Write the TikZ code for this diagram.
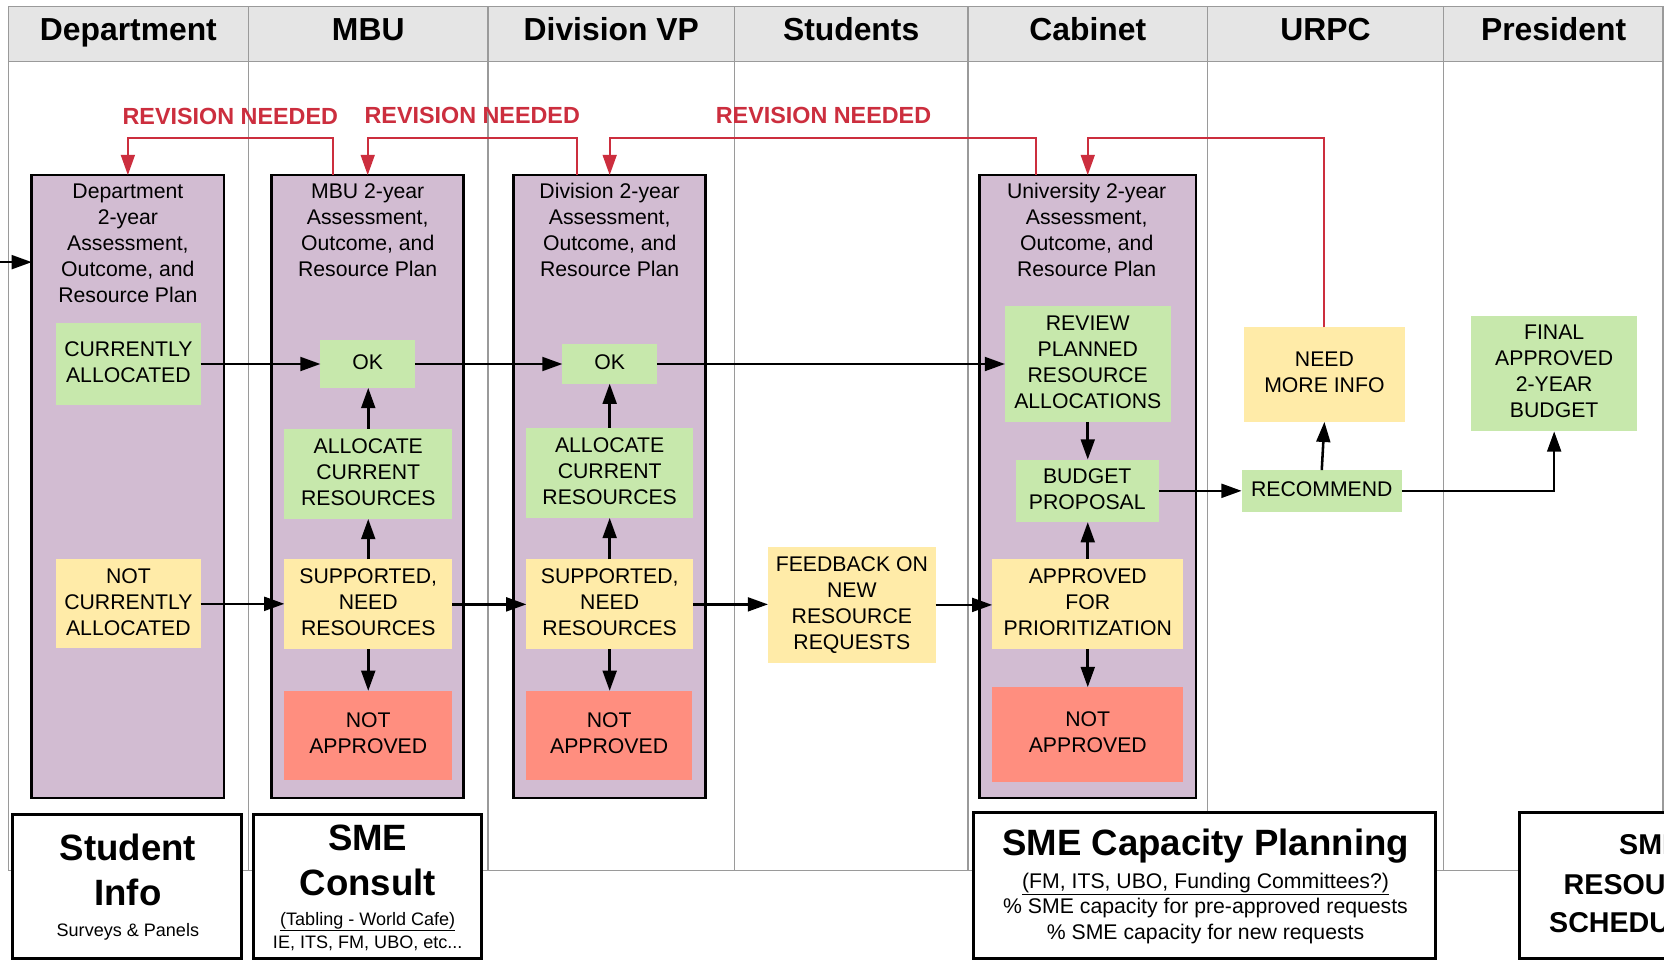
\documentclass[tikz,border=0pt]{standalone}
\usepackage{fontspec}
\setmainfont{Liberation Sans}
\usetikzlibrary{arrows.meta,calc}
\definecolor{purp}{HTML}{D2BCD2}
\definecolor{grn}{HTML}{C7E8AC}
\definecolor{yel}{HTML}{FFEBA8}
\definecolor{sal}{HTML}{FF8E7F}
\definecolor{revred}{HTML}{CC2E3E}
\definecolor{laneg}{HTML}{9A9A9A}
\definecolor{hdrg}{HTML}{E5E5E5}
\begin{document}
\begin{tikzpicture}[x=1pt,y=-1pt,
  every node/.style={inner sep=0pt,outer sep=0pt},
  sz/.style 2 args={minimum width=#1,minimum height=#2},
  body/.style={font=\fontsize{20}{24.5}\selectfont,align=center},
  inb/.style={body,text depth=4pt},
  hdr/.style={font=\fontsize{30}{36}\selectfont\bfseries},
  ttl/.style={font=\fontsize{34.5}{41}\selectfont\bfseries},
  ttlb/.style={font=\fontsize{27}{36}\selectfont\bfseries},
  smallt/.style={font=\fontsize{17}{21}\selectfont},
  midt/.style={font=\fontsize{20}{24.5}\selectfont},
  revt/.style={font=\fontsize{22}{26}\selectfont\bfseries,text=revred},
  lane/.style={draw=laneg,line width=1.3pt},
  pbox/.style={draw=black,line width=2.6pt,fill=purp},
  gbox/.style={inb,fill=grn},
  ybox/.style={inb,fill=yel},
  rbox/.style={inb,fill=sal},
  bbox/.style={draw=black,line width=2.8pt,fill=white},
  arr/.style={draw=black,line width=2.4pt,-{Triangle[length=19pt,width=13pt]}},
  rev/.style={draw=revred,line width=2pt,-{Triangle[length=19pt,width=13pt]}}
]
\useasboundingbox (0,0) rectangle (1568,905);
\clip (0,0) rectangle (1568,905);
\fill[white] (0,0) rectangle (1568,905);

% swimlanes
\fill[hdrg] (8,6) rectangle (1567,58);
\draw[lane] (8,6) rectangle (1567,820);
\draw[lane] (8,58) -- (1567,58);
\foreach \x in {234,460,692,912,1138,1360} \draw[lane] (\x,6) -- (\x,820);
\node[hdr,anchor=base] (hDept) at (121,38.5) {Department};
\node[hdr,anchor=base] (hMBU) at (347,38.5) {MBU};
\node[hdr,anchor=base] (hDiv) at (576,38.5) {Division VP};
\node[hdr,anchor=base] (hStu) at (802,38.5) {Students};
\node[hdr,anchor=base] (hCab) at (1025,38.5) {Cabinet};
\node[hdr,anchor=base] (hURPC) at (1249,38.5) {URPC};
\node[hdr,anchor=base] (hPres) at (1464,38.5) {President};

% plan boxes
\node[pbox,sz={181}{587}] (dept) at (120.5,458.5) {};
\node[pbox,sz={181}{587}] (mbu) at (346.5,458.5) {};
\node[pbox,sz={181}{587}] (div) at (574.5,458.5) {};
\node[pbox,sz={204}{587}] (univ) at (1025,458.5) {};
\node[body,anchor=north] (deptT) at (120.5,173) {Department\\2-year\\Assessment,\\Outcome, and\\Resource Plan};
\node[body,anchor=north] (mbuT) at (346.5,173) {MBU 2-year\\Assessment,\\Outcome, and\\Resource Plan};
\node[body,anchor=north] (divT) at (574.5,173) {Division 2-year\\Assessment,\\Outcome, and\\Resource Plan};
\node[body,anchor=north] (univT) at (1024,173) {University 2-year\\Assessment,\\Outcome, and\\Resource Plan};

% inner boxes
\node[gbox,sz={136}{78}] (cur) at (121,343) {CURRENTLY\\ALLOCATED};
\node[ybox,sz={136}{84}] (notcur) at (121,569) {NOT\\CURRENTLY\\ALLOCATED};
\node[gbox,sz={89}{45}] (mbuok) at (346.5,343) {OK};
\node[gbox,sz={158}{85}] (mbual) at (347,446.5) {ALLOCATE\\CURRENT\\RESOURCES};
\node[ybox,sz={158}{85}] (mbusup) at (347,569.5) {SUPPORTED,\\NEED\\RESOURCES};
\node[rbox,sz={158}{84}] (mbuna) at (347,693) {NOT\\APPROVED};
\node[gbox,sz={89}{37}] (divok) at (574.5,343) {OK};
\node[gbox,sz={157}{85}] (dival) at (574.5,445.5) {ALLOCATE\\CURRENT\\RESOURCES};
\node[ybox,sz={157}{85}] (divsup) at (574.5,569.5) {SUPPORTED,\\NEED\\RESOURCES};
\node[rbox,sz={156}{84}] (divna) at (574,693) {NOT\\APPROVED};
\node[ybox,sz={158}{109}] (feed) at (802.7,570) {FEEDBACK ON\\NEW\\RESOURCE\\REQUESTS};
\node[gbox,sz={156}{109}] (review) at (1025,343) {REVIEW\\PLANNED\\RESOURCE\\ALLOCATIONS};
\node[gbox,sz={135}{59}] (budget) at (1024.5,462.5) {BUDGET\\PROPOSAL};
\node[ybox,sz={180}{85}] (appr) at (1025,569) {APPROVED\\FOR\\PRIORITIZATION};
\node[rbox,sz={180}{89}] (cabna) at (1025,692) {NOT\\APPROVED};
\node[ybox,sz={152}{89}] (needinfo) at (1248,353) {NEED\\MORE INFO};
\node[gbox,sz={151}{39}] (recommend) at (1245.5,462.5) {RECOMMEND};
\node[gbox,sz={157}{109}] (final) at (1464.5,352) {FINAL\\APPROVED\\2-YEAR\\BUDGET};

% revision loops
\coordinate (revY) at (0,130);
\draw[rev] ($(mbu.north)+(-32.5,0)$) coordinate (r1) -- (r1 |- revY) -| (dept.north);
\draw[rev] ($(div.north)+(-30.5,0)$) coordinate (r2) -- (r2 |- revY) -| (mbu.north);
\draw[rev] ($(univ.north)+(-49,0)$) coordinate (r3) -- (r3 |- revY) -| (div.north);
\draw[rev] (needinfo.north) -- (needinfo.north |- revY) -| (univ.north);
\node[revt] (rev1) at (217,110) {REVISION NEEDED};
\node[revt] (rev2) at (445,109) {REVISION NEEDED};
\node[revt] (rev3) at (776,109) {REVISION NEEDED};

% flow
\coordinate (entry) at (0,247);
\draw[arr] (entry) -- (entry -| dept.west);
\draw[arr] (cur.east) -- (cur.east -| mbuok.west);
\draw[arr] (mbuok.east) -- (mbuok.east -| divok.west);
\draw[arr] (divok.east) -- (divok.east -| review.west);
\draw[arr] (mbual.north) -- (mbual.north |- mbuok.south);
\draw[arr] (mbusup.north) -- (mbual.south);
\draw[arr] (mbusup.south) -- (mbuna.north);
\draw[arr] (dival.north) -- (dival.north |- divok.south);
\draw[arr] (divsup.north) -- (dival.south);
\draw[arr] (divsup.south) -- (divsup.south |- divna.north);
\draw[arr] (notcur.east) -- (notcur.east -| mbusup.west);
\draw[arr] (mbusup.east) -- (mbusup.east -| divsup.west);
\draw[arr] (divsup.east) -- (divsup.east -| feed.west);
\draw[arr] (feed.east) -- (feed.east -| appr.west);
\draw[arr] (appr.north) -- (appr.north |- budget.south);
\draw[arr] (review.south) -- (review.south |- budget.north);
\draw[arr] (appr.south) -- (cabna.north);
\draw[arr] (budget.east) -- (budget.east -| recommend.west);
\draw[arr] (recommend.north) -- (needinfo.south);
\draw[arr] (recommend.east) -| (final.south);

% bottom boxes
\node[bbox,sz={216}{136}] (student) at (120,835.5) {};
\node[ttl,anchor=base] (stuA) at (120.5,810.5) {Student};
\node[ttl,anchor=base] (stuB) at (120.5,853) {Info};
\node[smallt,anchor=base] (stuC) at (120.5,882) {Surveys \& Panels};

\node[bbox,sz={215}{136}] (consult) at (346.5,835.5) {};
\node[ttl,anchor=base] (conA) at (346.5,801.5) {SME};
\node[ttl,anchor=base] (conB) at (346.5,843.5) {Consult};
\node[smallt,anchor=base] (conC) at (346.5,872) {\underline{(Tabling - World Cafe)}};
\node[smallt,anchor=base] (conD) at (346.5,893.5) {IE, ITS, FM, UBO, etc...};

\node[bbox,sz={435.5}{137.5}] (capacity) at (1135.25,834.75) {};
\node[ttl,anchor=base] (capA) at (1136,806) {SME Capacity Planning};
\node[midt,anchor=base] (capB) at (1136,837) {\underline{(FM, ITS, UBO, Funding Committees?)}};
\node[midt,anchor=base] (capC) at (1136,861) {\% SME capacity for pre-approved requests};
\node[midt,anchor=base] (capD) at (1136,885) {\% SME capacity for new requests};

\node[bbox,sz={240}{137.5}] (sched) at (1552,834.75) {};
\node[ttlb,anchor=base] (schA) at (1555,805) {SME};
\node[ttlb,anchor=base] (schB) at (1550,843) {RESOURCE};
\node[ttlb,anchor=base] (schC) at (1549,879) {SCHEDULING};
\end{tikzpicture}
\end{document}
